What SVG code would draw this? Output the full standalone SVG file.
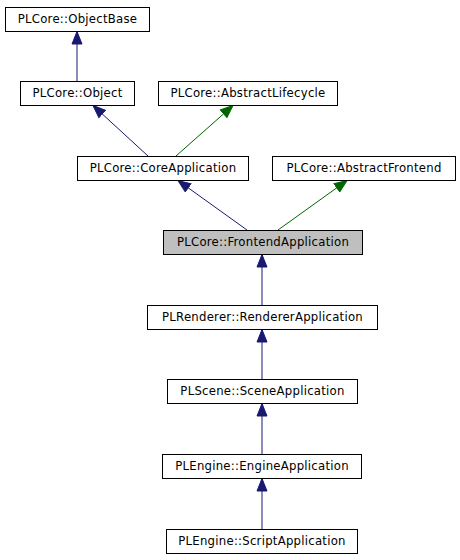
<svg xmlns="http://www.w3.org/2000/svg" width="460" height="560" viewBox="0 0 460 560">
<defs>
<style>
.n rect{fill:#fff;stroke:#000;stroke-width:1}
.n.sel rect{fill:#bfbfbf}
.n text{font-family:"DejaVu Sans",sans-serif;font-size:11.7px;letter-spacing:0.25px;fill:#000;text-anchor:middle}
.e{fill:none;stroke-width:1}
.b{stroke:#191970}
.g{stroke:#006400}
</style>
<marker id="ab" markerUnits="userSpaceOnUse" markerWidth="14" markerHeight="12" refX="13" refY="6" orient="auto"><path d="M0.5,1 L13,6 L0.5,11 z" fill="#191970" stroke="#191970"/></marker>
<marker id="ag" markerUnits="userSpaceOnUse" markerWidth="14" markerHeight="12" refX="13" refY="6" orient="auto"><path d="M0.5,1 L13,6 L0.5,11 z" fill="#006400" stroke="#006400"/></marker>
</defs>
<rect width="460" height="560" fill="#fff"/>
<g id="edges">
<line class="e b" x1="77" y1="81" x2="77" y2="31.5" marker-end="url(#ab)"/>
<line class="e b" x1="148" y1="156" x2="93" y2="105.5" marker-end="url(#ab)"/>
<line class="e g" x1="176" y1="156" x2="233" y2="105.5" marker-end="url(#ag)"/>
<line class="e b" x1="247" y1="230" x2="178" y2="180.5" marker-end="url(#ab)"/>
<line class="e g" x1="278" y1="230" x2="347" y2="180.5" marker-end="url(#ag)"/>
<line class="e b" x1="262" y1="305" x2="262" y2="254.5" marker-end="url(#ab)"/>
<line class="e b" x1="262" y1="379" x2="262" y2="329.5" marker-end="url(#ab)"/>
<line class="e b" x1="262" y1="454" x2="262" y2="403.5" marker-end="url(#ab)"/>
<line class="e b" x1="262" y1="529" x2="262" y2="478.5" marker-end="url(#ab)"/>
</g>
<g id="ObjectBase" class="n"><rect x="5.5" y="7.5" width="144" height="24"/><text x="77.5" y="23">PLCore::ObjectBase</text></g>
<g id="Object" class="n"><rect x="20.5" y="81.5" width="114" height="24"/><text x="77.5" y="97">PLCore::Object</text></g>
<g id="AbstractLifecycle" class="n"><rect x="158.5" y="81.5" width="179" height="24"/><text x="248" y="97">PLCore::AbstractLifecycle</text></g>
<g id="CoreApplication" class="n"><rect x="77.5" y="156.5" width="171" height="24"/><text x="163" y="172">PLCore::CoreApplication</text></g>
<g id="AbstractFrontend" class="n"><rect x="272.5" y="156.5" width="183" height="24"/><text x="364" y="172">PLCore::AbstractFrontend</text></g>
<g id="FrontendApplication" class="n sel"><rect x="163.5" y="230.5" width="199" height="24"/><text x="263" y="246">PLCore::FrontendApplication</text></g>
<g id="RendererApplication" class="n"><rect x="147.5" y="305.5" width="230" height="24"/><text x="262.5" y="321">PLRenderer::RendererApplication</text></g>
<g id="SceneApplication" class="n"><rect x="167.5" y="379.5" width="190" height="24"/><text x="262.5" y="395">PLScene::SceneApplication</text></g>
<g id="EngineApplication" class="n"><rect x="162.5" y="454.5" width="199" height="24"/><text x="262" y="470">PLEngine::EngineApplication</text></g>
<g id="ScriptApplication" class="n"><rect x="166.5" y="529.5" width="191" height="24"/><text x="262" y="545">PLEngine::ScriptApplication</text></g>
</svg>
